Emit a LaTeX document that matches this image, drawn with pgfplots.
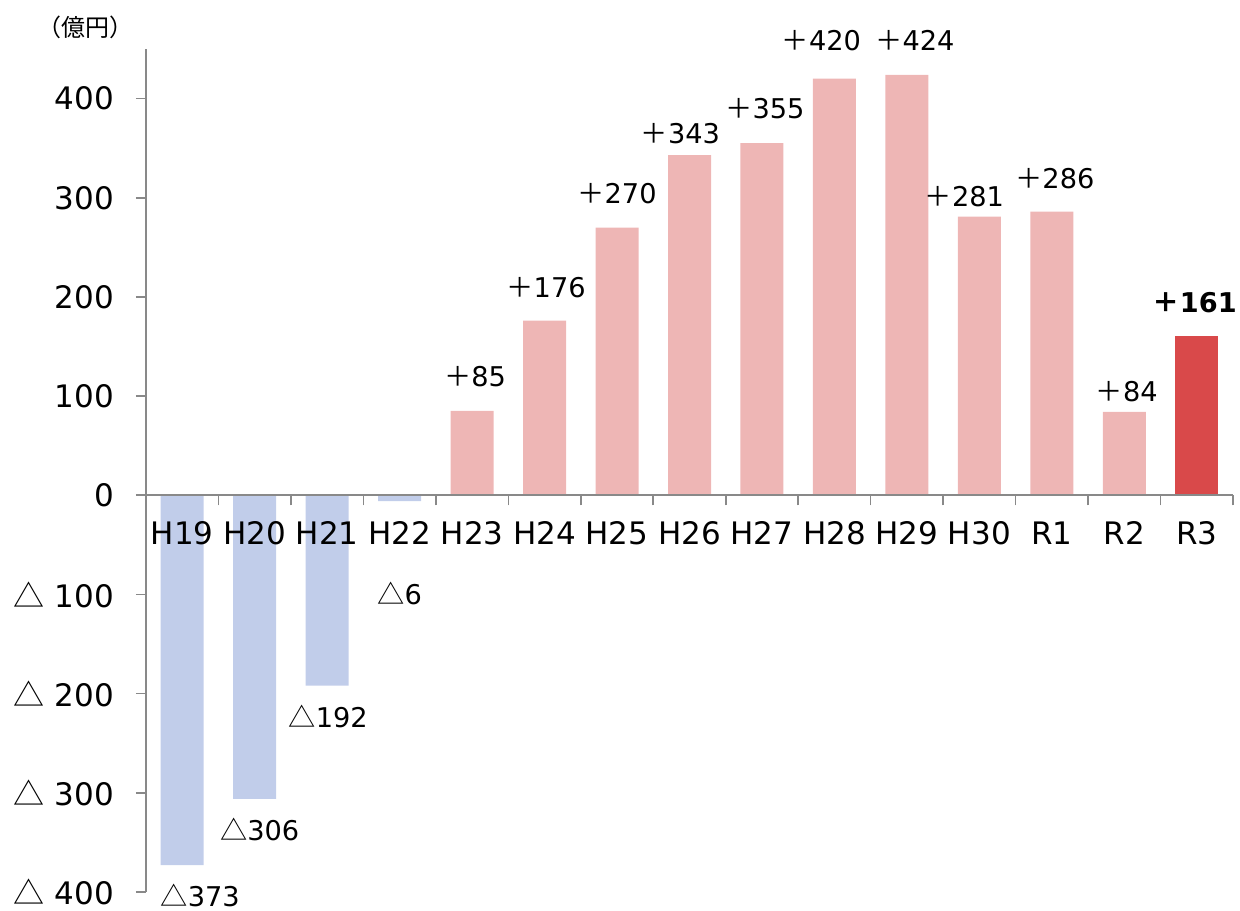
\documentclass[border=0pt]{standalone}
\usepackage{fontspec}
\setmainfont{DejaVu Sans}
\newfontfamily\jp{Noto Sans CJK JP}
\usepackage{pgfplots}
\usepackage{pgfplotstable}
\pgfplotsset{compat=1.18}
\usetikzlibrary{calc}
\definecolor{negc}{RGB}{193,205,234}
\definecolor{posc}{RGB}{238,182,181}
\definecolor{hic}{RGB}{217,73,74}
\definecolor{axc}{RGB}{137,137,137}

\pgfplotstableread{
x y m dx dy
0 -373 373 9 -15
1 -306 306 2.5 -15.5
2 -192 192 0.5 -15.5
3 -6 6 0 -46
}\negdata
\pgfplotstableread{
x y m dx dy
4 85 85 1.5 17
5 176 176 0.75 16.5
6 270 270 0 17
7 343 343 -4.5 11
8 355 355 1.5 17.5
9 420 420 -6.5 19
10 424 424 4 17
11 281 281 -7.5 10
12 286 286 1.5 16.5
13 84 84 1.25 10
}\posdata
\pgfplotstableread{
x y m dx dy
14 161 161 -1 16.5
}\hidata

\newcommand{\tickfont}{\fontsize{15.5}{18}\selectfont}
\newcommand{\lblfont}{\fontsize{13.6}{16}\selectfont}

\begin{document}
\begin{tikzpicture}
\begin{axis}[
  scale only axis, width=543.5pt, height=421.5pt,
  xmin=-0.5, xmax=14.5, ymin=-400, ymax=450,
  axis y line*=left, axis x line*=middle,
  axis on top,
  axis line style={axc, line width=0.8pt},
  tick align=outside,
  ytick={-400,-300,...,400},
  yticklabels={{{\jp △} 400},{{\jp △} 300},{{\jp △} 200},{{\jp △} 100},0,100,200,300,400},
  y tick style={axc, line width=0.8pt},
  major tick length=5pt,
  yticklabel style={font=\tickfont, xshift=-7.5pt},
  xtick={0,...,14},
  xticklabels={H19,H20,H21,H22,H23,H24,H25,H26,H27,H28,H29,H30,R1,R2,R3},
  x tick style={draw=none},
  xticklabel style={font=\tickfont, yshift=-4.5pt, text height=11.5pt, text depth=0pt},
  extra x ticks={-0.5,0.5,...,14.5},
  extra x tick labels={},
  extra x tick style={x tick style={draw=axc, line width=0.8pt}, tick align=outside, major tick length=5pt},
  clip=false,
]
\coordinate (bl) at (rel axis cs:0,0);
\coordinate (tr) at (rel axis cs:1,1);
\addplot[ybar, bar width=21.5pt, bar shift=0pt, fill=negc, draw=none,
  point meta=explicit symbolic,
  visualization depends on={\thisrow{dx}\as\dx},
  visualization depends on={\thisrow{dy}\as\dy},
  nodes near coords={{\jp △}\pgfplotspointmeta},
  every node near coord/.style={anchor=center, font=\lblfont, xshift=\dx pt, yshift=\dy pt, inner sep=0pt}]
  table[x=x, y=y, meta=m]{\negdata};
\addplot[ybar, bar width=21.5pt, bar shift=0pt, fill=posc, draw=none,
  point meta=explicit symbolic,
  visualization depends on={\thisrow{dx}\as\dx},
  visualization depends on={\thisrow{dy}\as\dy},
  nodes near coords={{\jp ＋}\pgfplotspointmeta},
  every node near coord/.style={anchor=center, font=\lblfont, xshift=\dx pt, yshift=\dy pt, inner sep=0pt}]
  table[x=x, y=y, meta=m]{\posdata};
\addplot[ybar, bar width=21.5pt, bar shift=0pt, fill=hic, draw=none,
  point meta=explicit symbolic,
  visualization depends on={\thisrow{dx}\as\dx},
  visualization depends on={\thisrow{dy}\as\dy},
  nodes near coords={{\jp\bfseries ＋}\textbf{\pgfplotspointmeta}},
  every node near coord/.style={anchor=center, font=\lblfont, xshift=\dx pt, yshift=\dy pt, inner sep=0pt}]
  table[x=x, y=y, meta=m]{\hidata};
\node[font=\jp\fontsize{12}{13}\selectfont, inner sep=0pt] at (rel axis cs:0,1) [xshift=-30pt, yshift=11pt] {（億円）};
\end{axis}
\pgfresetboundingbox
\useasboundingbox ($(bl)+(-73pt,-9pt)$) rectangle ($(tr)+(3.5pt,24.5pt)$);
\end{tikzpicture}
\end{document}
